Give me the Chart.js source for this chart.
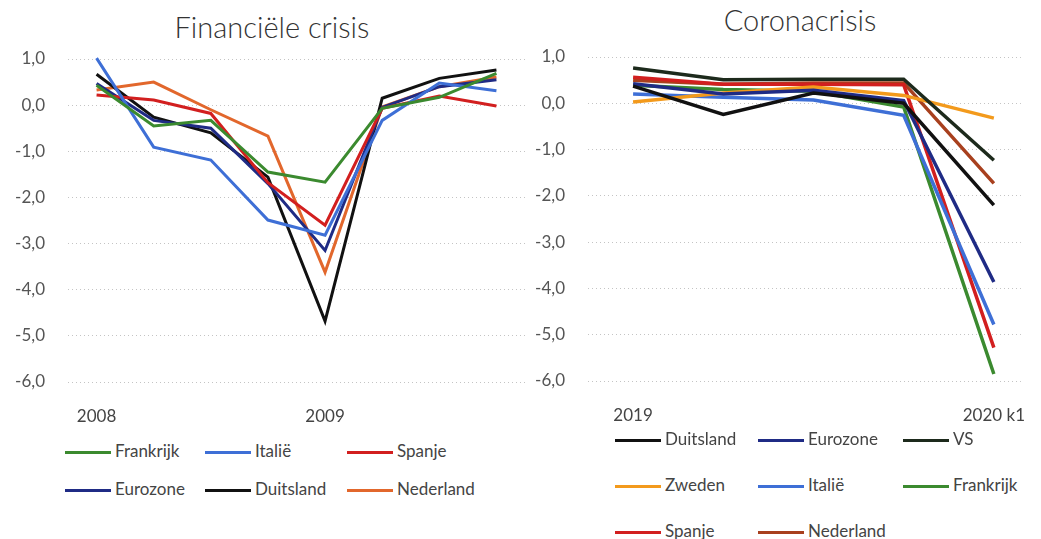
<!DOCTYPE html>
<html lang="nl">
<head>
<meta charset="UTF-8">
<title>Financiële crisis vs Coronacrisis</title>
<script src="https://cdn.jsdelivr.net/npm/chart.js"></script>
<style>
  body { margin: 0; background: #fff; font-family: Lato, "Open Sans", sans-serif; }
  #wrap { position: relative; width: 1041px; height: 539px; overflow: hidden; }
  .title { position: absolute; font-size: 29px; font-weight: 300; color: #333; white-space: nowrap; transform: translateX(-50%); }
  .box { position: absolute; }
  .legend { position: absolute; font-size: 17px; color: #444; }
  .item { position: absolute; white-space: nowrap; }
  .item span.line { display: inline-block; width: 46px; height: 3px; vertical-align: middle; margin-right: 4px; }
</style>
</head>
<body>
<div id="wrap">
  <div class="title" style="left:272px; top:9px;">Financiële crisis</div>
  <div class="title" style="left:800px; top:2px;">Coronacrisis</div>
  <div class="box" style="left:0; top:0; width:530px; height:430px;"><canvas id="fin"></canvas></div>
  <div class="box" style="left:530px; top:0; width:511px; height:430px;"><canvas id="corona"></canvas></div>
  <div class="legend" id="finLegend"></div>
  <div class="legend" id="coronaLegend"></div>
</div>

<script>
// Financiële crisis: kwartaalgroei 2008 k1 t/m 2009 k4
const finLabels = ['2008', '', '', '', '2009', '', '', ''];
const finFrankrijk = [0.43, -0.45, -0.33, -1.45, -1.67, -0.07, 0.17, 0.69];
const finItalie    = [1.02, -0.91, -1.19, -2.49, -2.82, -0.33, 0.48, 0.31];
const finSpanje    = [0.22, 0.11, -0.18, -1.68, -2.6, -0.07, 0.2, -0.02];
const finEurozone  = [0.47, -0.33, -0.5, -1.7, -3.15, -0.05, 0.4, 0.55];
const finDuitsland = [0.67, -0.26, -0.6, -1.56, -4.68, 0.15, 0.58, 0.76];
const finNederland = [0.33, 0.5, -0.1, -0.67, -3.62, -0.04, 0.4, 0.61];

// Coronacrisis: 2019 k1 t/m 2020 k1
const coronaLabels = ['2019', '', '', '', '2020 k1'];
const corDuitsland = [0.37, -0.24, 0.22, 0.0, -2.2];
const corEurozone  = [0.42, 0.2, 0.28, 0.06, -3.86];
const corVS        = [0.76, 0.51, 0.52, 0.52, -1.23];
const corZweden    = [0.03, 0.22, 0.35, 0.17, -0.32];
const corItalie    = [0.2, 0.13, 0.07, -0.26, -4.78];
const corFrankrijk = [0.39, 0.3, 0.26, -0.08, -5.85];
const corSpanje    = [0.56, 0.41, 0.41, 0.4, -5.28];
const corNederland = [0.5, 0.41, 0.44, 0.44, -1.73];

const yTicks = [1, 0, -1, -2, -3, -4, -5, -6];

const finSeries = [
  { label: 'Frankrijk', data: finFrankrijk, color: '#3b8a2f' },
  { label: 'Italië', data: finItalie, color: '#3e6fd6' },
  { label: 'Spanje', data: finSpanje, color: '#d21f1f' },
  { label: 'Eurozone', data: finEurozone, color: '#1f2b85' },
  { label: 'Duitsland', data: finDuitsland, color: '#111111' },
  { label: 'Nederland', data: finNederland, color: '#e2672c' }
];

const coronaSeries = [
  { label: 'Duitsland', data: corDuitsland, color: '#111111' },
  { label: 'Eurozone', data: corEurozone, color: '#1f2b85' },
  { label: 'VS', data: corVS, color: '#1d2a1c' },
  { label: 'Zweden', data: corZweden, color: '#f39a1c' },
  { label: 'Italië', data: corItalie, color: '#3e6fd6' },
  { label: 'Frankrijk', data: corFrankrijk, color: '#3b8a2f' },
  { label: 'Spanje', data: corSpanje, color: '#d21f1f' },
  { label: 'Nederland', data: corNederland, color: '#a8401e' }
];

function makeChart(id, labels, series, opts) {
  const ctx = document.getElementById(id).getContext('2d');
  return new Chart(ctx, {
    type: 'line',
    data: {
      datasets: series.map(s => ({
        label: s.label,
        data: s.data.map((v, i) => ({ x: i, y: v })),
        borderColor: s.color,
        backgroundColor: s.color,
        borderWidth: opts.lineWidth,
        pointRadius: 0,
        tension: 0,
        clip: false
      }))
    },
    options: {
      responsive: true,
      maintainAspectRatio: false,
      animation: false,
      layout: { padding: { top: opts.top, right: opts.right, left: 0, bottom: 0 } },
      plugins: { legend: { display: false }, tooltip: { enabled: false } },
      scales: {
        x: {
          type: 'linear',
          min: -0.5,
          max: opts.xMax,
          grid: { display: false },
          border: { display: false },
          afterBuildTicks: scale => {
            scale.ticks = labels.map((l, i) => ({ value: i })).filter(t => labels[t.value] !== '');
          },
          afterFit: scale => { scale.height = opts.xHeight; },
          ticks: {
            padding: 16,
            maxRotation: 0,
            color: '#444',
            font: { family: 'Lato', size: 17 },
            callback: v => labels[v]
          }
        },
        y: {
          min: -6,
          max: 1,
          afterBuildTicks: scale => { scale.ticks = yTicks.map(v => ({ value: v })); },
          afterFit: scale => { scale.width = opts.yWidth; },
          grid: { color: '#c4c4c4', lineWidth: 1, drawTicks: false },
          border: { display: false, dash: [1, 3] },
          ticks: {
            padding: 23,
            color: '#555',
            font: { family: 'Lato', size: 17 },
            callback: v => v.toFixed(1).replace('.', ',')
          }
        }
      }
    }
  });
}

makeChart('fin', finLabels, finSeries, { top: 59, right: 5, xMax: 7.5, xHeight: 48, yWidth: 68, lineWidth: 3 });
makeChart('corona', coronaLabels, coronaSeries, { top: 57, right: 0, xMax: 4.3, xHeight: 49, yWidth: 58, lineWidth: 3.5 });

function buildLegend(id, series, left, top, cols, rowGap) {
  const el = document.getElementById(id);
  el.style.left = left + 'px';
  el.style.top = top + 'px';
  series.forEach((s, i) => {
    const d = document.createElement('div');
    d.className = 'item';
    d.style.left = cols[i % cols.length] + 'px';
    d.style.top = Math.floor(i / cols.length) * rowGap + 'px';
    d.innerHTML = '<span class="line" style="background:' + s.color + '"></span>' + s.label;
    el.appendChild(d);
  });
}

buildLegend('finLegend', finSeries, 65, 440, [0, 140, 282], 38);
buildLegend('coronaLegend', coronaSeries, 615, 428, [0, 143, 288], 46);
</script>
</body>
</html>
